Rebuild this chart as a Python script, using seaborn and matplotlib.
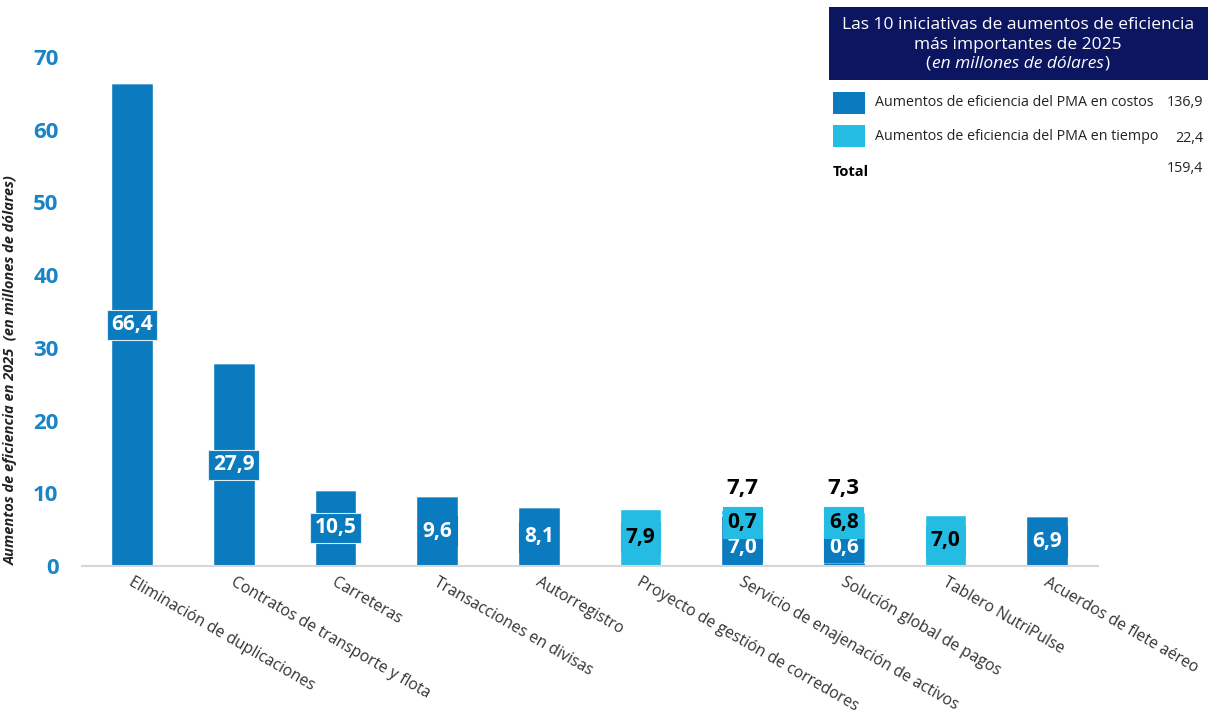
import matplotlib
matplotlib.use("Agg")
import matplotlib.pyplot as plt
import seaborn as sns
import numpy as np
import pandas as pd
from matplotlib.patches import Rectangle

categories = ["Eliminación de duplicaciones", "Contratos de transporte y flota", "Carreteras",
              "Transacciones en divisas", "Autorregistro", "Proyecto de gestión de corredores",
              "Servicio de enajenación de activos", "Solución global de pagos",
              "Tablero NutriPulse", "Acuerdos de flete aéreo"]
costos = [66.4, 27.9, 10.5, 9.6, 8.1, 0.0, 7.0, 0.6, 0.0, 6.9]
tiempo = [0.0, 0.0, 0.0, 0.0, 0.0, 7.9, 0.7, 6.8, 7.0, 0.0]
totales = [66.4, 27.9, 10.5, 9.6, 8.1, 7.9, 7.7, 7.3, 7.0, 6.9]
legend_labels = ["Aumentos de eficiencia del PMA en costos", "Aumentos de eficiencia del PMA en tiempo"]
legend_values = [136.9, 22.4]
total_value = 159.4
yticks = [0, 10, 20, 30, 40, 50, 60, 70]

DARK = "#0A7BBE"
LIGHT = "#24BCE3"
NAVY = "#0B1560"
TICKBLUE = "#1A85C6"

sns.set_theme(style="white")
plt.rcParams["font.family"] = ["Open Sans", "DejaVu Sans"]

fig = plt.figure(figsize=(12.08, 7.13), dpi=100)
ax = fig.add_axes([0.068, 0.206, 0.841, 0.714])

df = pd.DataFrame({"cat": categories, "costos": costos, "tiempo": tiempo})
sns.barplot(data=df, x="cat", y="costos", color=DARK, width=0.41, saturation=1, ax=ax, order=categories)
sns.barplot(data=df, x="cat", y="tiempo", color=LIGHT, width=0.41, saturation=1, ax=ax,
            order=categories, bottom=np.array(costos))

ax.set_ylim(0, 70)
ax.set_xlim(-0.49, 9.5)
ax.set_yticks(yticks)
ax.set_yticklabels([str(t) for t in yticks], fontsize=16, fontweight="bold", color=TICKBLUE)
ax.tick_params(axis="y", length=0, pad=17)
ax.tick_params(axis="x", length=0, pad=6)
ax.set_xticks(np.arange(len(categories)) + 0.02)
ax.set_xticklabels(categories, rotation=-30, ha="left", va="top", rotation_mode="anchor",
                   fontsize=11.3, color="#333333")
for s in ["top", "right", "left"]:
    ax.spines[s].set_visible(False)
ax.spines["bottom"].set_color("#d6d6d6")
ax.spines["bottom"].set_linewidth(1.5)
ax.set_xlabel("")
ax.set_ylabel("Aumentos de eficiencia en 2025  (en millones de dólares)", fontsize=10.5,
              fontstyle="italic", fontweight="bold", color="#222222")
ax.yaxis.set_label_coords(-0.063, 0.385)

def fmt(v):
    return f"{v:.1f}".replace(".", ",")

for i, (c, t, tot) in enumerate(zip(costos, tiempo, totales)):
    if c > 0 and t > 0:
        ax.text(i, 2.6, fmt(c), ha="center", va="center", fontsize=15, fontweight="bold", color="white",
                bbox=dict(boxstyle="square,pad=0.22", fc=DARK, ec=DARK, lw=0.8))
        ax.text(i, 6.0, fmt(t), ha="center", va="center", fontsize=15, fontweight="bold", color="black",
                bbox=dict(boxstyle="square,pad=0.22", fc=LIGHT, ec=LIGHT, lw=0.8))
        ax.text(i, 10.7, fmt(tot), ha="center", va="center", fontsize=16, fontweight="bold", color="black")
    elif c > 0:
        edge = "#dcecf6" if c > 10 else DARK
        ax.text(i, c / 2, fmt(c), ha="center", va="center", fontsize=15, fontweight="bold", color="white",
                bbox=dict(boxstyle="square,pad=0.22", fc=DARK, ec=edge, lw=0.8))
    else:
        ax.text(i, t / 2, fmt(t), ha="center", va="center", fontsize=15, fontweight="bold", color="black",
                bbox=dict(boxstyle="square,pad=0.22", fc=LIGHT, ec=LIGHT, lw=0.8))

# Legend panel
W, H = 1208, 713
def fx(px): return px / W
def fy(py): return 1 - py / H

fig.add_artist(Rectangle((fx(829), fy(80)), fx(1208) - fx(829), fy(7) - fy(80),
                         transform=fig.transFigure, fc=NAVY, ec="none"))
fig.text(fx(1018), fy(25), "Las 10 iniciativas de aumentos de eficiencia", ha="center", va="center",
         color="white", fontsize=12.5)
fig.text(fx(1018), fy(45), "más importantes de 2025", ha="center", va="center", color="white", fontsize=12.5)
it = fig.text(fx(1018), fy(64), "en millones de dólares", ha="center", va="center", color="white",
              fontsize=12.5, fontstyle="italic")
fig.canvas.draw()
bb = it.get_window_extent().transformed(fig.transFigure.inverted())
fig.text(bb.x0 - 0.001, fy(64), "(", ha="right", va="center", color="white", fontsize=12.5)
fig.text(bb.x1 + 0.0005, fy(64), ")", ha="left", va="center", color="white", fontsize=12.5)

rows_y = [103, 136]
for yy, col, lab, val in zip(rows_y, [DARK, LIGHT], legend_labels, legend_values):
    fig.add_artist(Rectangle((fx(833), fy(yy + 11)), fx(32), 22 / H, transform=fig.transFigure,
                             fc=col, ec="none"))
    fig.text(fx(875), fy(yy), lab, ha="left", va="center", fontsize=10.3, color="#222222")
    fig.text(fx(1203), fy(yy + (0 if val > 100 else 3)), fmt(val), ha="right", va="center",
             fontsize=10.3, color="#222222")
fig.text(fx(833), fy(172), "Total", ha="left", va="center", fontsize=10.5, fontweight="bold", color="black")
fig.text(fx(1203), fy(168), fmt(total_value), ha="right", va="center", fontsize=10.3, color="#222222")

fig.savefig("out.png", dpi=100)
